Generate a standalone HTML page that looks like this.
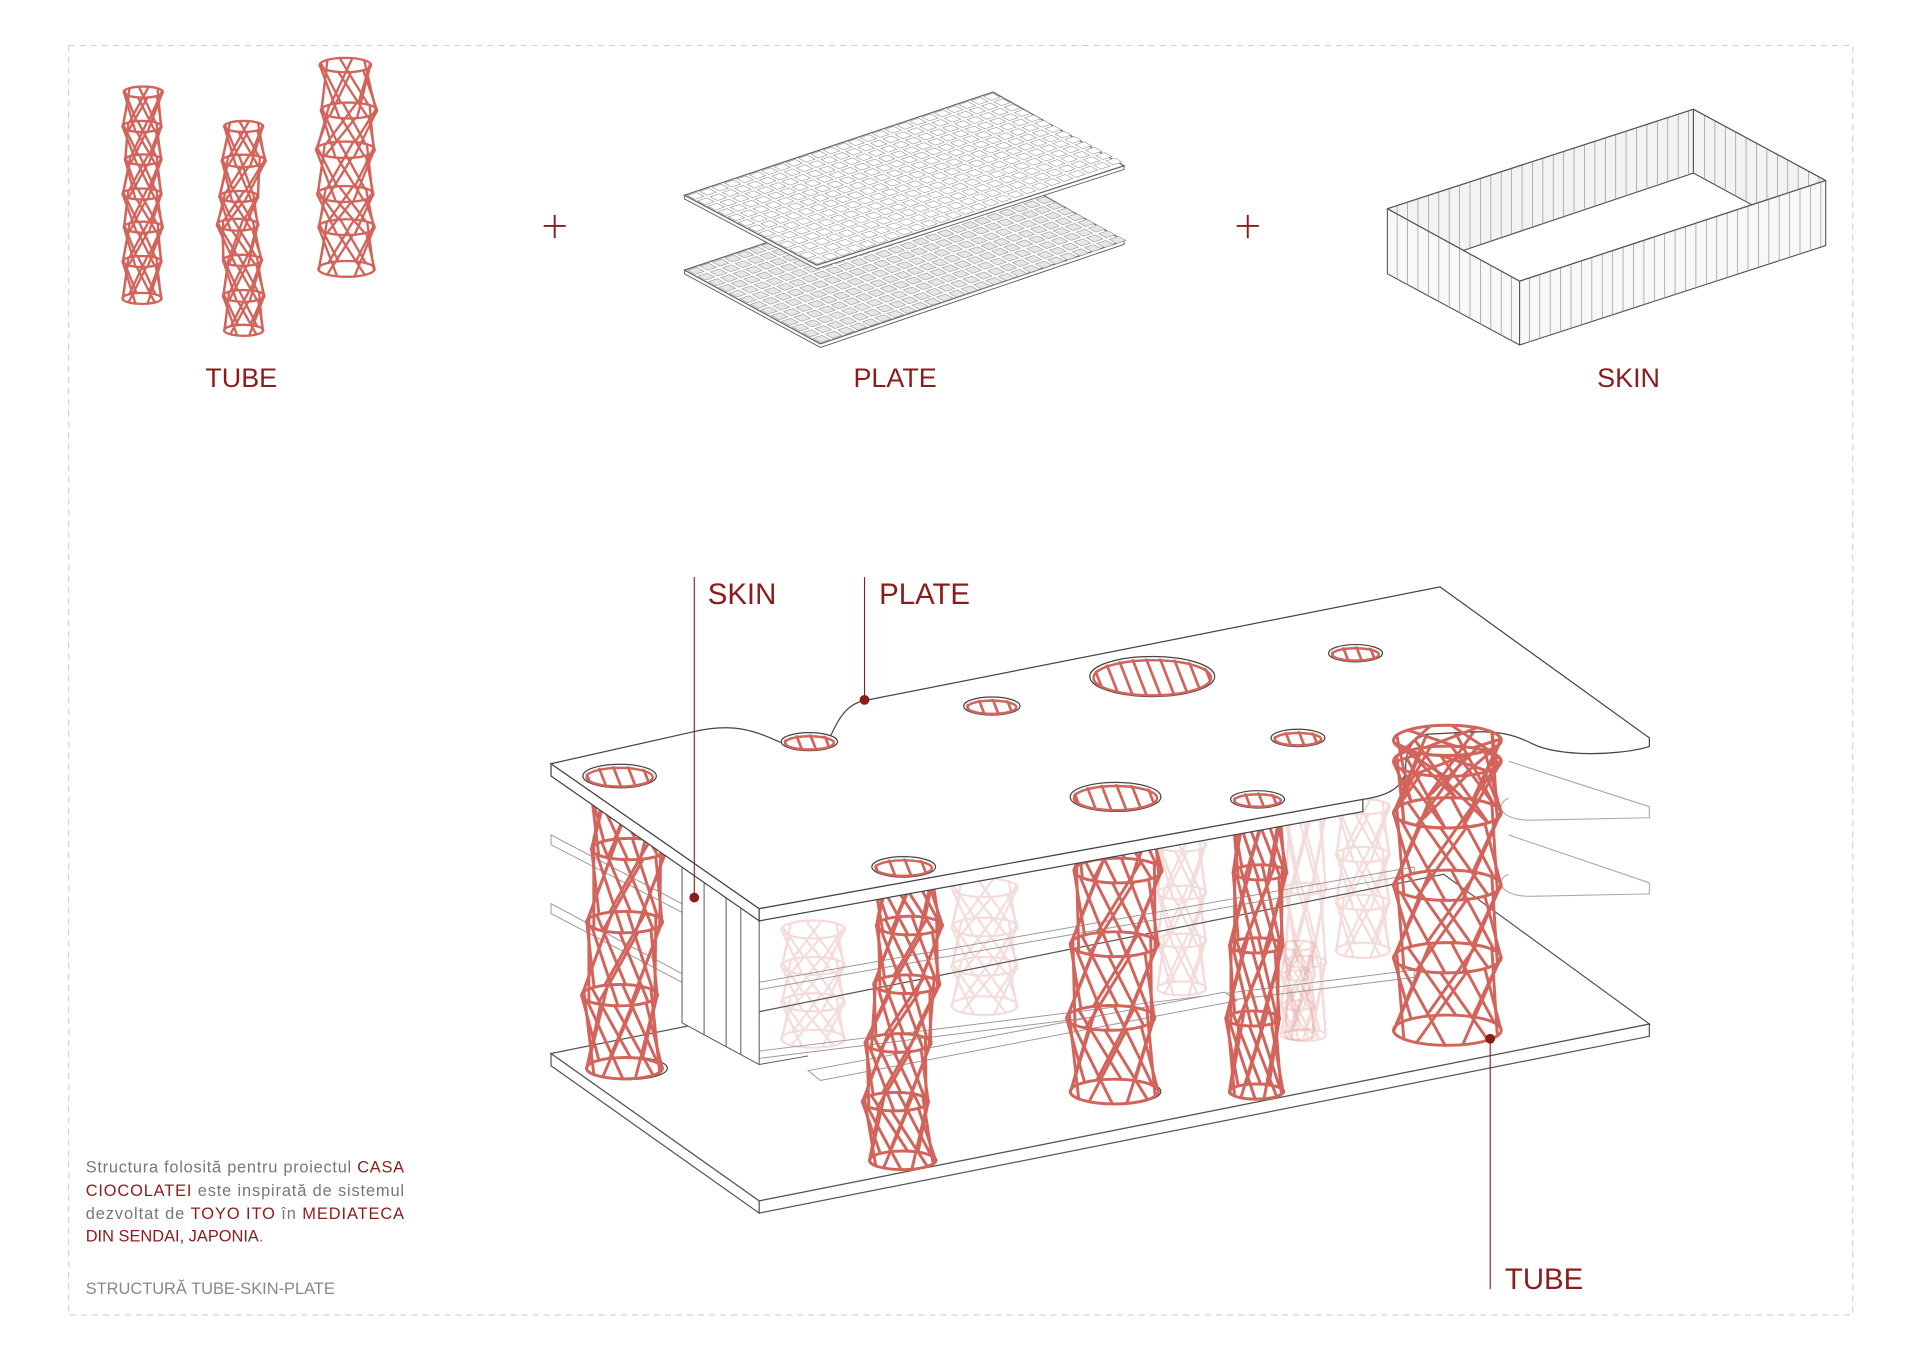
<!DOCTYPE html>
<html><head><meta charset="utf-8">
<style>
html,body{margin:0;padding:0;background:#fff;}
svg{display:block;}
text{font-family:"Liberation Sans",sans-serif;}
</style></head>
<body>
<svg id="s" width="1920" height="1358" viewBox="0 0 1568 1106" preserveAspectRatio="none" xmlns="http://www.w3.org/2000/svg">
<rect x="0" y="0" width="1568" height="1106" fill="#fff"/>
<rect x="56" y="37" width="1457" height="1034" fill="none" stroke="#d4d4d4" stroke-width="1" stroke-dasharray="5,4"/>
<g id="g"></g>
<g fill="#8e1b1b" font-size="22">
<text x="197" y="315" text-anchor="middle">TUBE</text>
<text x="731" y="315" text-anchor="middle">PLATE</text>
<text x="1330" y="315" text-anchor="middle">SKIN</text>
<text x="578" y="492" font-size="24">SKIN</text>
<text x="718" y="492" font-size="24">PLATE</text>
<text x="1229" y="1050" font-size="24">TUBE</text>
</g>
<g stroke="#8e1b1b" stroke-width="1.6">
<line x1="444" y1="184" x2="462" y2="184"/><line x1="453" y1="175" x2="453" y2="194"/>
<line x1="1010" y1="184" x2="1028" y2="184"/><line x1="1019" y1="175" x2="1019" y2="194"/>
</g>
<g font-size="13.4" fill="#777">
<text x="70" y="955" textLength="260" lengthAdjust="spacing">Structura folosită pentru proiectul <tspan fill="#8e1b1b">CASA</tspan></text>
<text x="70" y="974" textLength="260" lengthAdjust="spacing"><tspan fill="#8e1b1b">CIOCOLATEI</tspan> este inspirată de sistemul</text>
<text x="70" y="993" textLength="260" lengthAdjust="spacing">dezvoltat de <tspan fill="#8e1b1b">TOYO ITO</tspan> în <tspan fill="#8e1b1b">MEDIATECA</tspan></text>
<text x="70" y="1011" fill="#8e1b1b">DIN SENDAI, JAPONIA<tspan fill="#777">.</tspan></text>
<text x="70" y="1054" fill="#888">STRUCTURĂ TUBE-SKIN-PLATE</text>
</g>
</svg>
<script>
var NS="http://www.w3.org/2000/svg",G=document.getElementById('g');
function el(t,a,p){var e=document.createElementNS(NS,t);for(var k in a)e.setAttribute(k,a[k]);(p||G).appendChild(e);return e;}
function grp(a,p){return el('g',a||{},p);}
function L(p,x1,y1,x2,y2,c,w){var a={x1:x1,y1:y1,x2:x2,y2:y2};if(c)a.stroke=c;if(w)a['stroke-width']=w;el('line',a,p);}
var RED="#d2645b";
function tube(p,rings,w,col,op,n){
 var g=grp({opacity:op||1,stroke:col||RED,'stroke-width':w||1.8,fill:'none','stroke-linecap':'round'},p);
 n=n||6;
 for(var i=0;i<rings.length-1;i++){
  var a=rings[i],b=rings[i+1];
  for(var k=0;k<n;k++){
   var t=k/n*2*Math.PI+0.3,d=Math.PI/3.2;
   L(g,a[0]+a[2]*Math.cos(t),a[1]+a[2]*0.28*Math.sin(t),b[0]+b[2]*Math.cos(t+d),b[1]+b[2]*0.28*Math.sin(t+d));
   L(g,a[0]+a[2]*Math.cos(t+0.5),a[1]+a[2]*0.28*Math.sin(t+0.5),b[0]+b[2]*Math.cos(t+0.5-d),b[1]+b[2]*0.28*Math.sin(t+0.5-d));
  }
 }
 rings.forEach(function(r){el('ellipse',{cx:r[0],cy:r[1],rx:r[2],ry:r[2]*0.28},g);});
}
function simpleTube(p,cx,y0,y1,rx,nr,w,col,op){var r=[];for(var i=0;i<=nr;i++)r.push([cx,y0+(y1-y0)*i/nr,rx]);tube(p,r,w,col,op,6);}
function lerp(a,b,t){return [a[0]+(b[0]-a[0])*t,a[1]+(b[1]-a[1])*t];}
function pt(P0,P1,P3,u,v){return [P0[0]+(P1[0]-P0[0])*u+(P3[0]-P0[0])*v,P0[1]+(P1[1]-P0[1])*u+(P3[1]-P0[1])*v];}
function gridPlate(P0,P1,P2,P3,fillc){
 var g=grp({});
 var th=3;
 el('polygon',{points:[P0,P3,P2,[P2[0],P2[1]+th],[P3[0],P3[1]+th],[P0[0],P0[1]+th]].map(String).join(' '),fill:'#fff',stroke:'#666','stroke-width':0.8},g);
 el('polygon',{points:[P0,P1,P2,P3].map(String).join(' '),fill:'#fff',stroke:'#666','stroke-width':1},g);
 var nu=25,nv=13,s=0.14;
 for(var i=0;i<nu;i++)for(var j=0;j<nv;j++){
  var u0=(i+s)/nu,u1=(i+1-s)/nu,v0=(j+s)/nv,v1=(j+1-s)/nv;
  el('polygon',{points:[pt(P0,P1,P3,u0,v0),pt(P0,P1,P3,u1,v0),pt(P0,P1,P3,u1,v1),pt(P0,P1,P3,u0,v1)].map(String).join(' '),fill:fillc,stroke:'#999','stroke-width':0.5},g);
 }
}
// small tubes
tube(G,[[117,75,16],[116,103,16],[117,130,15],[116,158,16],[117,185,16],[116,213,16],[116,243,16]],1.9);
tube(G,[[199,103,16],[199,131,18],[195,160,16],[194,183,17],[198,212,16],[199,241,17],[199,269,16]],1.9);
tube(G,[[282,53,21],[285,90,23],[282,122,24],[282,158,23],[283,185,23],[283,219,23]],1.9);
// plates
gridPlate([559,220],[811,136],[918,196],[670,280],'#e6e6e6');
gridPlate([559,159],[811,75],[918,135],[667,216],'#fff');
// skin
(function(){
 var g=grp({stroke:'#555','stroke-width':0.9,'stroke-linejoin':'round'});
 var A=[1133,170],B=[1383,89],C=[1491,147],D=[1241,229],A2=[1133,223],D2=[1241,281],C2=[1491,200],I1=[1195,204],I2=[1383,141],I3=[1431,167];
 function poly(pts,f){el('polygon',{points:pts.map(String).join(' '),fill:f},g);}
 function yOn(P,Q,x){return P[1]+(Q[1]-P[1])*(x-P[0])/(Q[0]-P[0]);}
 poly([A,B,I2,I1],'#f3f3f3');poly([B,C,I3,I2],'#f3f3f3');poly([I1,I2,I3,D],'#fff');
 poly([A,D,D2,A2],'#f8f8f8');poly([D,C,C2,D2],'#f8f8f8');
 var h=grp({stroke:'#999','stroke-width':0.6},g);
 for(var x=1141;x<1383;x+=8.5){var t=yOn(A,B,x),b=x<1195?yOn(A,D,x):yOn(I1,I2,x);L(h,x,t,x,b);}
 for(var x=1392;x<1491;x+=8.5){var t=yOn(B,C,x),b=x<1431?yOn(I2,I3,x):yOn(D,C,x);L(h,x,t,x,b);}
 for(var x=1141;x<1241;x+=8.5){L(h,x,yOn(A,D,x),x,yOn(A2,D2,x));}
 for(var x=1249;x<1491;x+=8.5){L(h,x,yOn(D,C,x),x,yOn(D2,C2,x));}
 poly([A,B,C,D],'none');
})();
// ===== main diagram =====
var M=grp({});
el('polygon',{points:'450,858 620,978 620,988 450,868',fill:'#fff',stroke:'#555','stroke-width':1},M);
el('polygon',{points:'620,978 1347,834 1347,844 620,988',fill:'#fff',stroke:'#555','stroke-width':1},M);
el('polygon',{points:'450,858 1179,712 1347,834 620,978',fill:'#fff',stroke:'#555','stroke-width':1},M);
[[512,870,33],[738,945,27],[911,889,37],[1027,889,22],[1182,839,44]].forEach(function(h){el('ellipse',{cx:h[0],cy:h[1],rx:h[2],ry:h[2]*0.28,fill:'#fff',stroke:'#444','stroke-width':1},M);});
var mp=grp({fill:'none',stroke:'#aaa','stroke-width':0.9},M);
el('path',{d:'M1232,620 L1347,657 L1347,666 L1250,668 C1225,668 1220,655 1232,650'},mp);
el('path',{d:'M1232,680 L1347,719 L1347,728 L1250,730 C1225,730 1220,717 1232,712'},mp);
[[664,757,846,26],[804,723,819,27],[1066,664,843,17],[1113,657,774,22],[965,688,805,20],[1060,770,843,14]].forEach(function(t){simpleTube(M,t[0],t[1],t[2],t[3],3,1.8,RED,0.22);});
el('polygon',{points:'450,680 557,736 557,743 450,688',fill:'#fff','fill-opacity':0.5,stroke:'#999','stroke-width':0.8},M);
el('polygon',{points:'450,736 557,793 557,800 450,744',fill:'#fff','fill-opacity':0.5,stroke:'#999','stroke-width':0.8},M);
var ml=grp({stroke:'#999','stroke-width':0.8,fill:'none'},M);
L(ml,620,800,1155,706);L(ml,620,806,1155,712);L(ml,620,856,1155,790);L(ml,620,862,1155,796);
L(ml,1155,706,1155,712);L(ml,1155,790,1155,796);
el('polygon',{points:'660,872 1000,808 1010,815 670,880',fill:'#fff',stroke:'#999','stroke-width':0.8},M);
var sk=grp({stroke:'#555','stroke-width':0.8},M);
el('polygon',{points:'557,699 620,750 620,867 557,833',fill:'#fff'},sk);
L(sk,575,713,575,843);L(sk,593,728,593,852);L(sk,605,737,605,859);
L(sk,620,867,660,860);
function bigTube(cx,y0,y1,rx,nr,bend){var r=[];for(var i=0;i<=nr;i++){var t=i/nr;r.push([cx+(bend||0)*Math.sin(t*Math.PI*2),y0+(y1-y0)*t,rx]);}tube(M,r,2.4,RED,1,7);}
bigTube(510,632,870,31,4,4);
bigTube(737,706,945,27,5,6);
bigTube(910,649,889,36,4,3);
bigTube(1026,651,889,22,4,3);
bigTube(1182,603,839,44,4,0);
el('polygon',{points:'450,622 620,740 620,750 450,632',fill:'#fff',stroke:'#444','stroke-width':1},M);
el('path',{d:'M620,740 L1113,651 L1113,661 L620,750 Z',fill:'#fff',stroke:'#444','stroke-width':1},M);
el('path',{d:'M450,622 L566,596 C600,588 618,596 636,604 C652,612 672,612 679,598 C685,585 692,572 709,570 L1176,478 L1347,601 L1347,608 C1320,616 1272,616 1252,606 C1236,598 1226,596 1205,596 L1165,598 C1150,603 1148,615 1148,625 C1148,640 1135,648 1113,651 L620,740 Z',fill:'#fff',stroke:'#444','stroke-width':1},M);
tube(M,[[1182,603,44],[1182,620,44],[1182,662,44]],2.4,RED,1,7);
var hc=0;
function hole(cx,cy,rx){
 var ry=rx*0.32,id='h'+(hc++);
 var cp=el('clipPath',{id:id},M);el('ellipse',{cx:cx,cy:cy,rx:rx-2,ry:ry-1.5},cp);
 el('ellipse',{cx:cx,cy:cy,rx:rx,ry:ry,fill:'#fff',stroke:'#444','stroke-width':1},M);
 var g=grp({'clip-path':'url(#'+id+')',stroke:RED,'stroke-width':2.2},M);
 var n=Math.max(4,Math.round(rx/6));
 for(var i=0;i<=n;i++){var x=cx-rx+2*rx*i/n;L(g,x,cy-ry,x+rx*0.25,cy+ry);}
 el('ellipse',{cx:cx,cy:cy+1,rx:rx-3,ry:ry-2,fill:'none',stroke:RED,'stroke-width':2},M);
}
hole(506,632,30);hole(738,706,26);hole(911,649,37);hole(1027,651,22);
hole(661,604,23);hole(810,575,23);hole(941,551,51);hole(1107,532,22);hole(1060,601,22);
var ld=grp({stroke:'#8e1b1b','stroke-width':0.9},M);
L(ld,567,470,567,731);L(ld,706,470,706,570);L(ld,1217,846,1217,1050);
el('circle',{cx:567,cy:731,r:4,fill:'#8e1b1b'},M);
el('circle',{cx:706,cy:570,r:4,fill:'#8e1b1b'},M);
el('circle',{cx:1217,cy:846,r:4,fill:'#8e1b1b'},M);
</script>
</body></html>
